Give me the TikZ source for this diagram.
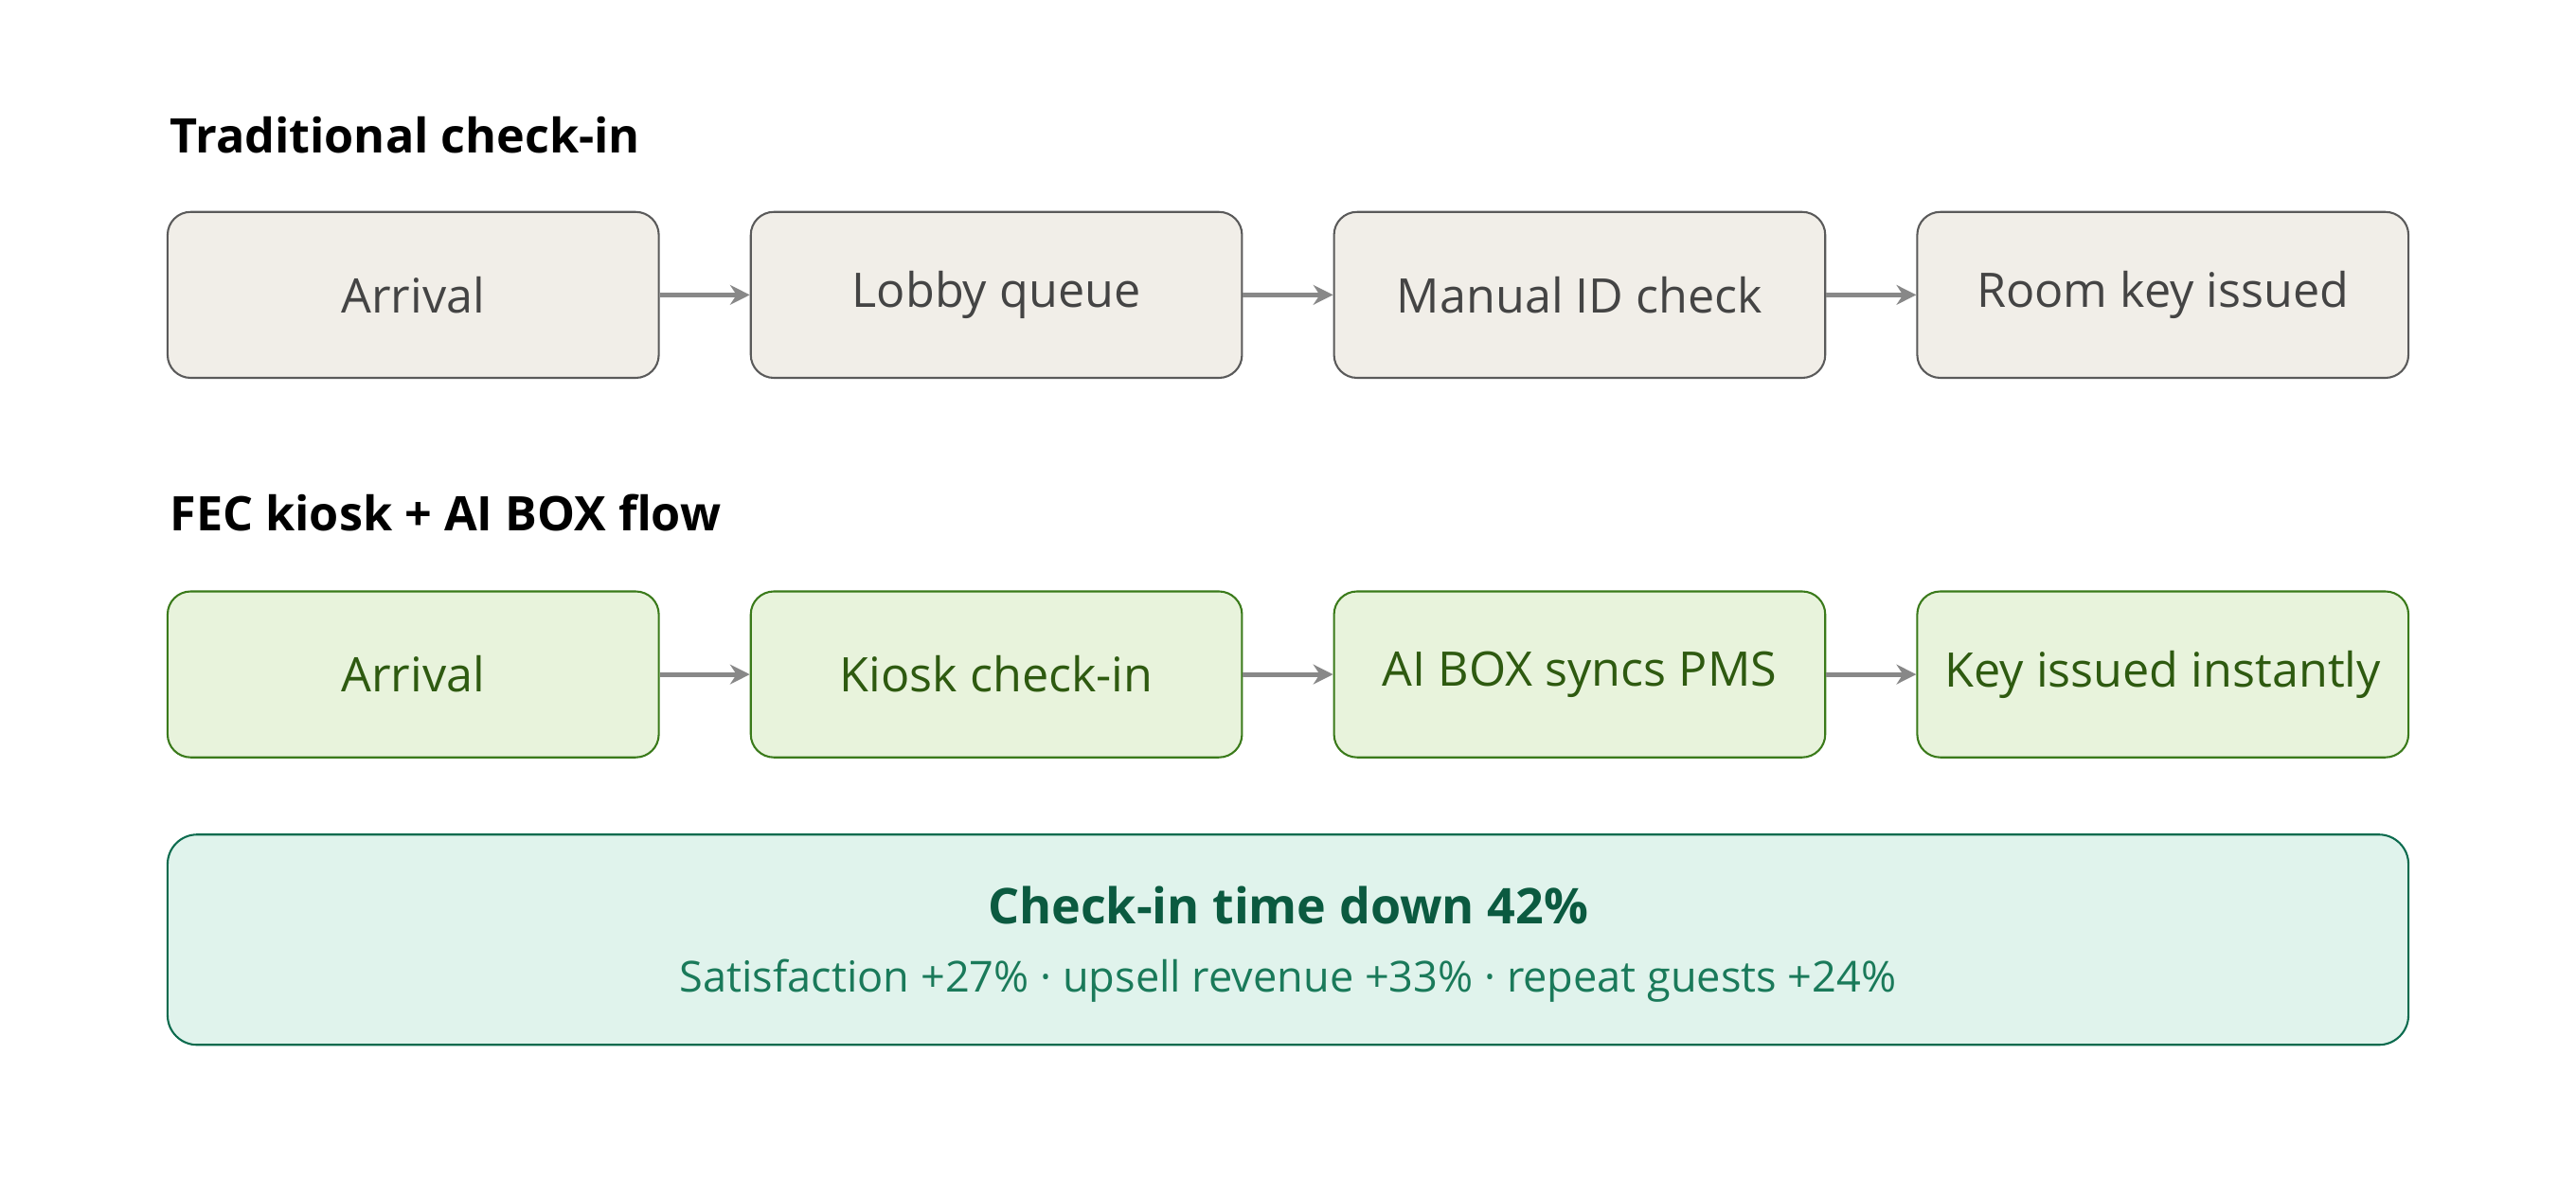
\documentclass[tikz,border=0pt]{standalone}
\usepackage{fontspec}
\setmainfont{Open Sans}
\usetikzlibrary{arrows.meta}
\definecolor{gfill}{HTML}{F1EEE8}\definecolor{gdraw}{HTML}{5A5A5A}\definecolor{gtext}{HTML}{444444}
\definecolor{lfill}{HTML}{E8F3DC}\definecolor{ldraw}{HTML}{3A7A1A}\definecolor{ltext}{HTML}{2E5A10}
\definecolor{tfill}{HTML}{E0F3EC}\definecolor{tdraw}{HTML}{0B6B4E}\definecolor{ttext}{HTML}{0B5A40}\definecolor{tsub}{HTML}{1A7A5A}
\definecolor{arr}{HTML}{888888}
\begin{document}
\begin{tikzpicture}[x=1pt,y=-1pt,
 box/.style={rounded corners=14pt,line width=1.2pt,minimum width=299pt,minimum height=101pt,inner sep=0pt,font=\fontsize{29}{34}\selectfont},
 grey/.style={box,fill=gfill,draw=gdraw,text=gtext},
 green/.style={box,fill=lfill,draw=ldraw,text=ltext},
 ttl/.style={anchor=west,font=\fontsize{29}{34}\selectfont\bfseries,text=black},
 ar/.style={draw=arr,line width=3pt,-{Stealth[length=12pt,width=12pt]}}]
\useasboundingbox (0,0) rectangle (1568,729);
\node[ttl] (t1) at (100,82) {Traditional check-in};
\node[ttl] (t2) at (100,312) {FEC kiosk + AI BOX flow};
\node[grey] (a1) at (251.5,179.5) {Arrival};
\node[grey] (a2) at (606.5,179.5) {Lobby queue};
\node[grey] (a3) at (961.5,179.5) {Manual ID check};
\node[grey] (a4) at (1316.5,179.5) {Room key issued};
\node[green] (b1) at (251.5,410.5) {Arrival};
\node[green] (b2) at (606.5,410.5) {Kiosk check-in};
\node[green] (b3) at (961.5,410.5) {AI BOX syncs PMS};
\node[green] (b4) at (1316.5,410.5) {Key issued instantly};
\draw[ar] (a1) -- (a2); \draw[ar] (a2) -- (a3); \draw[ar] (a3) -- (a4);
\draw[ar] (b1) -- (b2); \draw[ar] (b2) -- (b3); \draw[ar] (b3) -- (b4);
\node[rounded corners=18pt,line width=1.2pt,fill=tfill,draw=tdraw,minimum width=1364pt,minimum height=128pt] (s) at (784,572) {};
\node[font=\fontsize{30}{36}\selectfont\bfseries,text=ttext] (s1) at (784,551) {Check-in time down 42\%};
\node[font=\fontsize{26}{31}\selectfont,text=tsub] (s2) at (784,597) {Satisfaction +27\% · upsell revenue +33\% · repeat guests +24\%};
\end{tikzpicture}
\end{document}
